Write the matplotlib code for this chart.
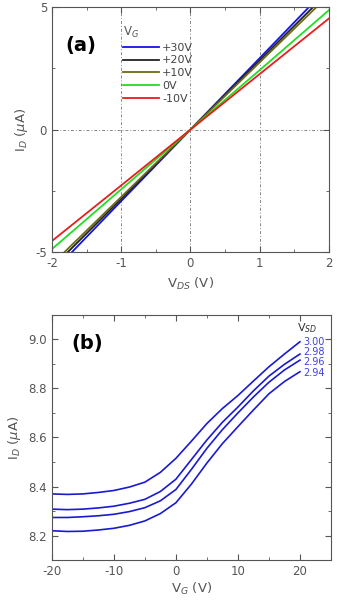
import matplotlib
matplotlib.use('Agg')
import matplotlib.pyplot as plt
from matplotlib.ticker import MultipleLocator

plt.rcParams['font.family'] = ['DejaVu Sans']
plt.rcParams['axes.unicode_minus'] = False

# (a) I_D - V_DS output curves
vds = [-2, -1, 0, 1, 2]
id_p30 = [-5.85, -2.92, 0, 2.92, 5.85]
id_p20 = [-5.65, -2.83, 0, 2.83, 5.65]
id_p10 = [-5.5, -2.75, 0, 2.75, 5.5]
id_0 = [-4.88, -2.44, 0, 2.43, 4.88]
id_m10 = [-4.55, -2.28, 0, 2.27, 4.54]
a_series = [id_p30, id_p20, id_p10, id_0, id_m10]
a_labels = ['+30V', '+20V', '+10V', '0V', '-10V']
a_colors = ['#1414e6', '#222222', '#6e6a14', '#22dd22', '#e61e1e']

# (b) I_D - V_G transfer curves
vg = [-20, -17.5, -15, -12.5, -10, -7.5, -5, -2.5, 0, 2.5, 5, 7.5, 10, 12.5, 15, 17.5, 20]
id_300 = [8.370, 8.368, 8.370, 8.376, 8.384, 8.398, 8.418, 8.458, 8.515, 8.585, 8.657,
          8.718, 8.771, 8.830, 8.888, 8.940, 8.990]
id_298 = [8.308, 8.306, 8.308, 8.313, 8.320, 8.332, 8.348, 8.380, 8.430, 8.510, 8.590,
          8.662, 8.724, 8.790, 8.850, 8.898, 8.940]
id_296 = [8.274, 8.274, 8.277, 8.281, 8.287, 8.298, 8.314, 8.342, 8.388, 8.470, 8.556,
          8.632, 8.700, 8.765, 8.825, 8.875, 8.915]
id_294 = [8.220, 8.217, 8.218, 8.223, 8.230, 8.242, 8.260, 8.290, 8.334, 8.410, 8.496,
          8.575, 8.644, 8.712, 8.778, 8.828, 8.868]
b_series = [id_300, id_298, id_296, id_294]
b_labels = ['3.00', '2.98', '2.96', '2.94']
b_label_y = [8.99, 8.948, 8.906, 8.862]

txt = '#555555'
fig = plt.figure(figsize=(3.37, 6.03), dpi=100)
ax1 = fig.add_axes([0.154, 0.582, 0.822, 0.406])
ax2 = fig.add_axes([0.154, 0.071, 0.828, 0.407])

for ax in (ax1, ax2):
    for s in ax.spines.values():
        s.set_color('#555555')
    ax.tick_params(which='both', direction='in', top=True, right=True,
                   colors='#555555', labelcolor=txt, labelsize=8.5)
    ax.tick_params(which='major', length=4)
    ax.tick_params(which='minor', length=2.5)

# panel a
for y, lab, c in zip(a_series, a_labels, a_colors):
    ax1.plot(vds, y, color=c, lw=1.3, label=lab)
ax1.set_xlim(-2, 2)
ax1.set_ylim(-5, 5)
ax1.xaxis.set_major_locator(MultipleLocator(1))
ax1.xaxis.set_minor_locator(MultipleLocator(0.5))
ax1.yaxis.set_major_locator(MultipleLocator(5))
ax1.yaxis.set_minor_locator(MultipleLocator(2.5))
ax1.grid(True, which='major', ls=(0, (1, 2, 3, 2)), color='#888888', lw=0.7)
ax1.set_xlabel('V$_{DS}$ (V)', color=txt, fontsize=9.5)
ax1.set_ylabel('I$_D$ ($\\mu$A)', color=txt, fontsize=9.5, labelpad=4)
ax1.text(0.05, 0.82, '(a)', transform=ax1.transAxes, fontsize=14, fontweight='bold')
leg = ax1.legend(loc='upper left', bbox_to_anchor=(0.23, 0.96), frameon=False,
                 title='V$_G$', fontsize=8, handlelength=3.2, handletextpad=0.3,
                 labelspacing=0.25, borderpad=0.2)
leg.get_title().set_color(txt)
leg.get_title().set_fontsize(8.5)
leg._legend_box.align = 'left'
for t in leg.get_texts():
    t.set_color('#444444')

# panel b
for y, lab, ly in zip(b_series, b_labels, b_label_y):
    ax2.plot(vg, y, color='#1a1ad0', lw=1.2)
    ax2.text(vg[-1] + 0.5, ly, lab, color='#4040e0', fontsize=7, va='center')
ax2.text(19.5, 9.035, 'V$_{SD}$', color='#333333', fontsize=8)
ax2.set_xlim(-20, 25)
ax2.set_ylim(8.1, 9.1)
ax2.xaxis.set_major_locator(MultipleLocator(10))
ax2.xaxis.set_minor_locator(MultipleLocator(5))
ax2.yaxis.set_major_locator(MultipleLocator(0.2))
ax2.yaxis.set_minor_locator(MultipleLocator(0.1))
ax2.set_xlabel('V$_G$ (V)', color=txt, fontsize=9.5, labelpad=2)
ax2.set_ylabel('I$_D$ ($\\mu$A)', color=txt, fontsize=9.5, labelpad=4)
ax2.text(0.07, 0.86, '(b)', transform=ax2.transAxes, fontsize=14, fontweight='bold')

fig.savefig('out.png', dpi=100)
